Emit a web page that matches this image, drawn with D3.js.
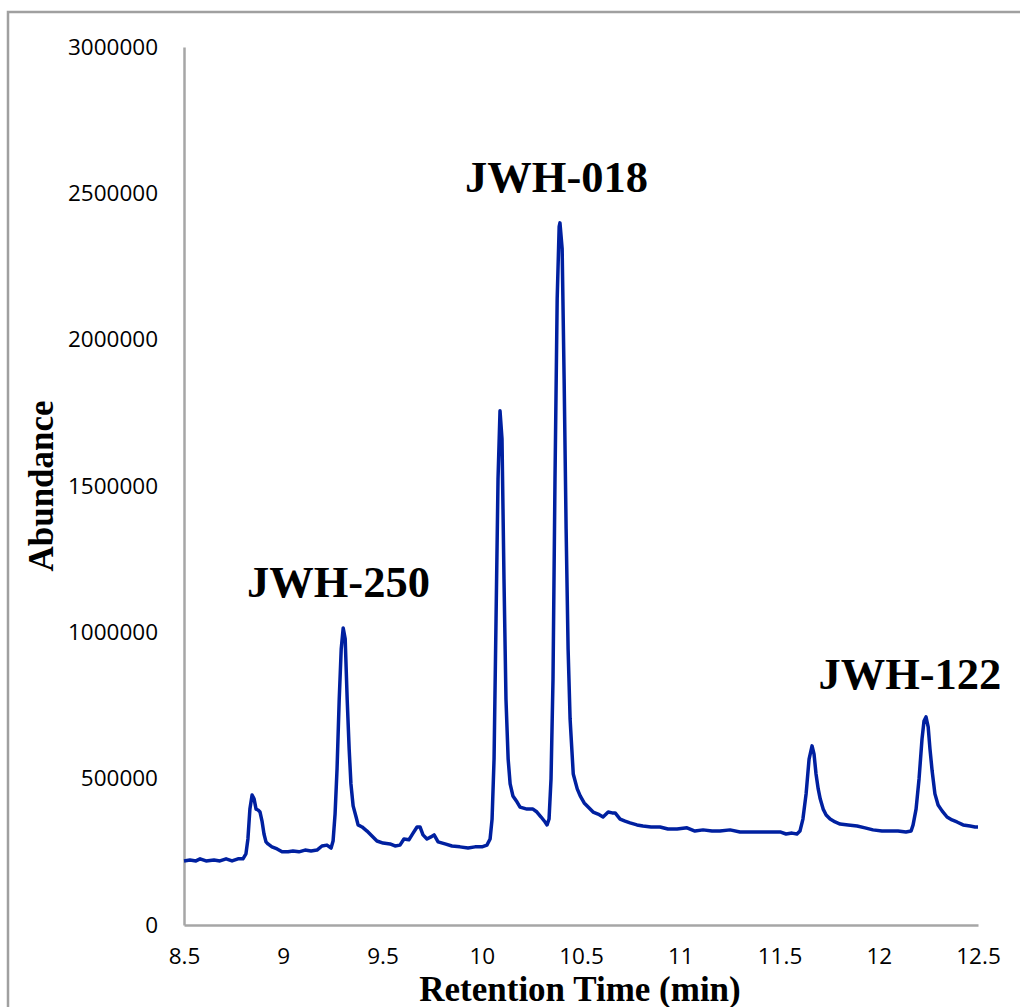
<!DOCTYPE html>
<html>
<head>
<meta charset="utf-8">
<script src="https://cdn.jsdelivr.net/npm/d3@7"></script>
<style>
  html, body { margin: 0; padding: 0; background: #fff; }
  svg { display: block; }
</style>
</head>
<body>
<svg id="chart" width="1020" height="1007"></svg>
<script>
// Retention time (min)
const retentionTime = [
  8.500, 8.530, 8.560, 8.581, 8.611, 8.651, 8.681, 8.712, 8.742, 8.772,
  8.797, 8.812, 8.822, 8.832, 8.843, 8.853, 8.863, 8.873, 8.883, 8.893,
  8.903, 8.913, 8.923, 8.943, 8.969, 8.994, 9.024, 9.049, 9.079, 9.110,
  9.140, 9.170, 9.195, 9.220, 9.241, 9.251, 9.261, 9.271, 9.282, 9.292,
  9.302, 9.312, 9.322, 9.332, 9.341, 9.352, 9.367, 9.377, 9.397, 9.422,
  9.447, 9.472, 9.503, 9.538, 9.563, 9.588, 9.608, 9.633, 9.654, 9.674,
  9.689, 9.704, 9.724, 9.744, 9.760, 9.780, 9.815, 9.850, 9.890, 9.931,
  9.966, 10.001, 10.026, 10.042, 10.052, 10.062, 10.072, 10.082, 10.092, 10.102,
  10.112, 10.122, 10.133, 10.143, 10.157, 10.178, 10.193, 10.228, 10.258, 10.278,
  10.299, 10.319, 10.329, 10.339, 10.349, 10.359, 10.369, 10.380, 10.390, 10.394,
  10.405, 10.415, 10.425, 10.435, 10.445, 10.461, 10.481, 10.496, 10.516, 10.536,
  10.561, 10.586, 10.611, 10.637, 10.657, 10.672, 10.697, 10.722, 10.747, 10.782,
  10.812, 10.853, 10.898, 10.938, 10.984, 11.034, 11.074, 11.115, 11.160, 11.200,
  11.251, 11.301, 11.351, 11.402, 11.452, 11.503, 11.533, 11.563, 11.588, 11.603,
  11.618, 11.634, 11.649, 11.664, 11.674, 11.684, 11.695, 11.705, 11.720, 11.735,
  11.755, 11.780, 11.805, 11.846, 11.891, 11.931, 11.971, 12.016, 12.057, 12.097,
  12.137, 12.163, 12.173, 12.188, 12.203, 12.218, 12.228, 12.238, 12.249, 12.258,
  12.269, 12.283, 12.299, 12.319, 12.344, 12.369, 12.394, 12.425, 12.460, 12.485,
  12.500
];

// Abundance
const abundance = [
  219000, 222000, 219000, 226000, 219000, 222000, 219000, 226000, 219000, 226000,
  226000, 243000, 294000, 396000, 444000, 431000, 396000, 393000, 386000, 355000,
  311000, 284000, 277000, 267000, 260000, 250000, 250000, 253000, 250000, 256000,
  253000, 256000, 270000, 273000, 263000, 287000, 379000, 533000, 772000, 943000,
  1015000, 978000, 772000, 602000, 482000, 407000, 369000, 342000, 335000, 321000,
  304000, 287000, 280000, 277000, 270000, 273000, 294000, 291000, 314000, 335000,
  335000, 308000, 294000, 301000, 308000, 284000, 277000, 270000, 267000, 263000,
  267000, 267000, 273000, 294000, 362000, 567000, 1046000, 1524000, 1757000, 1661000,
  1183000, 772000, 567000, 482000, 441000, 420000, 403000, 396000, 396000, 386000,
  369000, 352000, 342000, 362000, 499000, 841000, 1524000, 2140000, 2386000, 2399000,
  2311000, 1866000, 1354000, 943000, 704000, 516000, 465000, 441000, 417000, 403000,
  386000, 379000, 369000, 386000, 383000, 383000, 362000, 355000, 349000, 342000,
  338000, 335000, 335000, 328000, 328000, 332000, 321000, 325000, 321000, 321000,
  325000, 318000, 318000, 318000, 318000, 318000, 311000, 314000, 311000, 321000,
  362000, 448000, 567000, 612000, 584000, 516000, 465000, 431000, 396000, 376000,
  362000, 352000, 345000, 342000, 338000, 332000, 325000, 321000, 321000, 321000,
  318000, 321000, 342000, 396000, 499000, 636000, 697000, 711000, 677000, 602000,
  526000, 448000, 410000, 390000, 369000, 359000, 352000, 342000, 338000, 335000,
  335000
];

const xTicks = [8.5, 9, 9.5, 10, 10.5, 11, 11.5, 12, 12.5];
const yTicks = [0, 500000, 1000000, 1500000, 2000000, 2500000, 3000000];

const peakLabels = ["JWH-250", "JWH-018", "JWH-122"];
const peakLabelTime = [9.278, 10.377, 12.157];
const peakLabelValue = [1120000, 2505000, 805000];

const xTitle = "Retention Time (min)";
const yTitle = "Abundance";

const svg = d3.select("#chart");
const W = 1020, H = 1007;

const x = d3.scaleLinear().domain([8.5, 12.5]).range([184, 978]);
const y = d3.scaleLinear().domain([0, 3000000]).range([925, 47]);

// outer frame
svg.append("rect")
  .attr("x", 8).attr("y", 12)
  .attr("width", W + 20).attr("height", H + 20)
  .attr("fill", "none")
  .attr("stroke", "#a0a0a0")
  .attr("stroke-width", 2.5);

const axisColor = "#a6a6a6";
const tickFont = "'Open Sans', sans-serif";

const gx = svg.append("g")
  .attr("transform", `translate(0,${y(0)})`)
  .call(d3.axisBottom(x).tickValues(xTicks).tickSize(0).tickPadding(23)
    .tickFormat(d => String(d)));
const gy = svg.append("g")
  .attr("transform", `translate(${x(8.5)},0)`)
  .call(d3.axisLeft(y).tickValues(yTicks).tickSize(0).tickPadding(26)
    .tickFormat(d3.format("d")));

[gx, gy].forEach(g => {
  g.select(".domain").attr("stroke", axisColor).attr("stroke-width", 2.5);
  g.selectAll("text")
    .attr("font-family", tickFont)
    .attr("font-size", 22.5)
    .attr("fill", "#000");
});

// data line
const pts = retentionTime.map((t, i) => [t, abundance[i]]);
svg.append("path")
  .datum(pts)
  .attr("fill", "none")
  .attr("stroke", "#0020a0")
  .attr("stroke-width", 3.5)
  .attr("stroke-linejoin", "round")
  .attr("d", d3.line().x(d => x(d[0])).y(d => y(d[1])));

// peak labels
svg.selectAll("text.peak")
  .data(peakLabels)
  .enter().append("text")
  .attr("class", "peak")
  .attr("x", (d, i) => x(peakLabelTime[i]))
  .attr("y", (d, i) => y(peakLabelValue[i]))
  .attr("text-anchor", "middle")
  .attr("font-family", "'Liberation Serif', 'Times New Roman', serif")
  .attr("font-weight", "bold")
  .attr("font-size", 44.5)
  .attr("fill", "#000")
  .text(d => d);

// axis titles
svg.append("text")
  .attr("x", 580).attr("y", 1001)
  .attr("text-anchor", "middle")
  .attr("font-family", "'Liberation Serif', 'Times New Roman', serif")
  .attr("font-weight", "bold")
  .attr("font-size", 35)
  .attr("fill", "#000")
  .text(xTitle);

svg.append("text")
  .attr("transform", "translate(53,486) rotate(-90)")
  .attr("text-anchor", "middle")
  .attr("font-family", "'Liberation Serif', 'Times New Roman', serif")
  .attr("font-weight", "bold")
  .attr("font-size", 35)
  .attr("fill", "#000")
  .text(yTitle);
</script>
</body>
</html>
